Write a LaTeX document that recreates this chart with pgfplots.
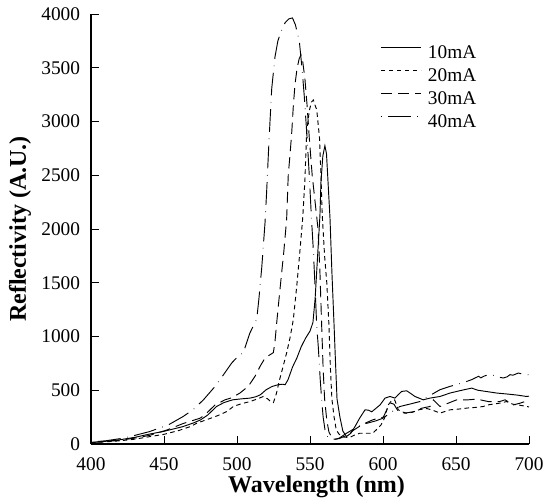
\documentclass[border=0pt]{standalone}
\usepackage{fontspec}
\setmainfont{Liberation Serif}
\usepackage{pgfplots}
\pgfplotsset{compat=1.18}

\pgfplotstableread{
x y
400 15
410 25
420 40
430 62
440 92
450 118
463 162
470 195
475 224
480 270
486 349
491 385
497 411
503 420
509 427
513 440
516 458
520 505
524 535
528 551
531 556
533 552
535 600
538 715
541 800
544 905
547 985
550 1050
552 1130
553.5 1350
555 1700
556.8 2124
557.5 2436
558.8 2680
560.2 2775
561.3 2700
562.3 2450
563.7 2100
565 1600
566.5 1100
567.5 750
568.5 420
570.5 250
572.5 120
575 70
578 100
580.8 162
584 240
587.7 318
590 315
592.3 300
595 330
598 364
601.4 427
604.8 442
608.2 427
610.5 460
612.8 489
616.2 495
619 470
621.9 442
627.6 411
632.2 427
639 442
645.9 474
653 497
660.7 520
665 500
670 490
677.9 474
685 465
692 455
698.4 442
700 445
}\tenmA

\pgfplotstableread{
x y
400 12
410 20
420 30
430 45
440 68
450 90
460 125
468 162
472.4 193
480 230
487 265
493 302
497.5 349
503 375
509 395
514 420
518 442
521 420
523 395
525 386
527 470
529 590
531 692
534 848
536.5 1000
538.6 1160
541 1480
543 1780
545 2100
546.5 2450
547.7 2900
549.5 3100
551 3180
552.3 3200
553.5 3150
554.6 3110
556.5 2850
557.5 2500
558.3 2150
560 1750
561.5 1500
563 1100
564 700
565 420
566.5 250
568 130
570 90
573 65
577 60
580 80
584 100
588 100
593 100
596 140
598.5 175
601 240
603.6 364
606 405
608 410
610.5 318
613 300
616 287
620 295
625 320
630 330
634 315
639 287
645.9 318
652 325
658 335
663 340
668.7 349
672 364
680 380
684.7 395
689 370
694 360
700 345
}\twentymA

\pgfplotstableread{
x y
400 14
410 22
420 35
430 55
440 80
452 130
463 190
474.7 240
478 271
485 364
491.8 411
496.4 430
502 474
507.7 536
512.3 629
515.8 722
519.2 800
522 825
524.9 850
526 950
527.2 1128
528.3 1283
530.6 1595
532 1780
534 2090
535.1 2500
536.3 2690
537.5 2900
538.6 3150
539.7 3340
541 3480
542.5 3580
543.8 3620
545 3560
546.5 3400
548 3150
549.5 2850
551.5 2500
553.5 2250
555.5 2000
556.8 1600
558 1100
559 700
560 420
561.5 220
563 110
565 60
567 45
570 50
575 80
580 130
584 165
588.8 200
593 225
597 240
600.2 250
603 330
605.5 380
607.5 370
610.5 302
615 287
618.5 295
621.9 302
626.5 333
632.2 349
634.5 411
639 349
644.7 380
650.5 411
658.4 411
664.2 418
672 395
680 395
683.6 411
689.3 364
694 380
697.3 395
700 370
}\thirtymA

\pgfplotstableread{
x y
400 18
410 30
420 50
430 80
440 115
453 178
463 255
470 320
477 411
485 536
490 630
496.4 754
501 820
504.3 848
508.9 1035
512 1120
513.5 1159
515 1350
517 1650
519.2 2060
520.3 2346
521.5 2700
522.6 3000
523.8 3308
526 3600
528 3750
530.6 3853
533 3920
535.5 3955
538 3963
540 3900
542.7 3745
544.5 3500
546 3250
548 2850
549.5 2500
551 2100
552.3 1800
553.5 1450
554.6 1100
555.7 900
557 600
558 411
559 250
560.3 130
562 70
564 50
566 45
568 45
570 55
575 100
580 140
585 175
589 193
595 215
600 240
605 290
611.6 349
618 370
625.3 395
632 450
639 505
645.9 536
653.9 567
658 585
661 600
663 614
665.5 630
667 615
669 630
671 640
674.5 645
678 625
682.4 614
685 625
687 645
689 640
692.7 660
696 650
700 645
}\fortymA

\begin{document}
\begin{tikzpicture}
% frame of the whole picture (552 x 500 px at 0.75pt per px)
\path (-68.25pt,-42pt) rectangle (345.75pt,333pt);
\begin{axis}[
    at={(0pt,0pt)}, anchor=south west,
    scale only axis,
    width=328.5pt, height=322.5pt,
    xmin=400, xmax=700, ymin=0, ymax=4000,
    xtick={400,450,...,700},
    ytick={0,500,...,4000},
    axis lines=left,
    axis line style={-, line width=0.8pt},
    tick style={black, line width=0.6pt},
    tick align=inside,
    major tick length=6pt,
    /pgf/number format/assume math mode=true,
    /pgf/number format/set thousands separator={},
    ticklabel style={font=\fontsize{14.5}{16}\selectfont},
    xticklabel style={anchor=base, yshift=-19.5pt},
    yticklabel style={anchor=east, inner sep=0pt, xshift=-8pt},
    xlabel={Wavelength (nm)},
    ylabel={Reflectivity (A.U.)},
    every axis x label/.style={at={(axis description cs:0.515,-0.1)}, anchor=center,
        font=\fontsize{18}{20}\selectfont\bfseries},
    every axis y label/.style={at={(axis description cs:-0.162,0.5)}, anchor=center, rotate=90,
        font=\fontsize{18}{20}\selectfont\bfseries},
    legend style={draw=none, fill=none, inner sep=0pt,
        at={(axis cs:598,3725)}, anchor=north west,
        font=\fontsize{14.5}{16}\selectfont,
        nodes={inner sep=1pt, text height=10pt, text depth=0pt},
        row sep=5.25pt, column sep=4pt},
    legend cell align=left,
    legend image code/.code={\draw[#1] (0pt,3.5pt) -- (30pt,3.5pt);},
]
\addplot[black, line width=0.7pt] table {\tenmA};
\addlegendentry{10mA}
\addplot[black, line width=0.7pt, dash pattern=on 3.4pt off 2.6pt] table {\twentymA};
\addlegendentry{20mA}
\addplot[black, line width=0.7pt, dash pattern=on 8.5pt off 4.5pt] table {\thirtymA};
\addlegendentry{30mA}
\addplot[black, line width=0.7pt, dash pattern=on 0.4pt off 5pt on 17pt off 5pt] table {\fortymA};
\addlegendentry{40mA}
\end{axis}
\end{tikzpicture}
\end{document}
